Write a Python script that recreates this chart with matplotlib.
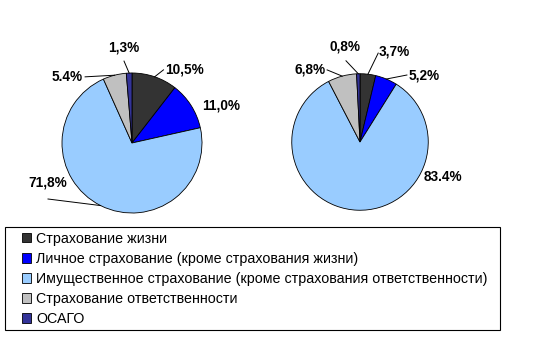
import matplotlib
matplotlib.use("Agg")
import matplotlib.pyplot as plt
from matplotlib.patches import Rectangle
import numpy as np

plt.rcParams['font.family'] = ['Liberation Sans', 'DejaVu Sans']

categories = [
    "Страхование жизни",
    "Личное страхование (кроме страхования жизни)",
    "Имущественное страхование (кроме страхования ответственности)",
    "Страхование ответственности",
    "ОСАГО",
]
left_values = [10.5, 11.0, 71.8, 5.4, 1.3]
left_labels = ["10,5%", "11,0%", "71,8%", "5.4%", "1,3%"]
right_values = [3.7, 5.2, 83.4, 6.8, 0.8]
right_labels = ["3,7%", "5,2%", "83.4%", "6,8%", "0,8%"]
colors = ["#333333", "#0000FF", "#99CCFF", "#C0C0C0", "#333399"]

W, H = 538, 337
fig = plt.figure(figsize=(W / 100, H / 100), dpi=100)

# layout: text centre and optional leader-line start (in pie-radius units)
left_layout = [((0.757, 1.057), (0.45, 1.045)),
               ((1.27, 0.53), None),
               ((-1.2, -0.57), (-1.2, -0.80)),
               ((-0.92, 0.945), (-0.67, 0.945)),
               ((-0.114, 1.36), (-0.114, 1.17))]
right_layout = [((0.493, 1.30), (0.26, 1.27)),
                ((0.915, 0.957), (0.67, 0.957)),
                ((1.186, -0.50), None),
                ((-0.72, 1.03), (-0.47, 1.03)),
                ((-0.214, 1.36), (-0.20, 1.16))]


def draw_pie(cx, cy, radius, values, labels, layout):
    size = 200
    ax = fig.add_axes([(cx - size / 2) / W, 1 - (cy + size / 2) / H, size / W, size / H])
    wedges, _ = ax.pie(values, colors=colors, startangle=90, counterclock=False,
                       radius=radius, wedgeprops=dict(edgecolor='black', linewidth=0.6))
    lim = size / 2 / 70
    ax.set_xlim(-lim, lim)
    ax.set_ylim(-lim, lim)
    ax.set_aspect('equal')
    ax.axis('off')
    for w, lab, (tpos, lstart) in zip(wedges, labels, layout):
        mid = np.deg2rad((w.theta1 + w.theta2) / 2)
        rim = (radius * np.cos(mid), radius * np.sin(mid))
        if lstart is not None:
            ax.plot([lstart[0], rim[0]], [lstart[1], rim[1]], color='black', lw=0.7,
                    clip_on=False)
        ax.text(tpos[0], tpos[1], lab, ha='center', va='center', fontsize=9.8,
                fontweight='bold', clip_on=False)
    return wedges


wl = draw_pie(132, 143, 1.0, left_values, left_labels, left_layout)
draw_pie(360, 142, 0.975, right_values, right_labels, right_layout)

fig.patches.append(Rectangle((5 / W, 1 - 330 / H), 495 / W, 103 / H,
                             transform=fig.transFigure, fill=False,
                             edgecolor='black', linewidth=0.8))

leg = fig.legend(wl, categories, loc='upper left',
                 bbox_to_anchor=(22 / W, 1 - 232 / H),
                 fontsize=10.3, frameon=False,
                 handlelength=0.6, handleheight=0.6, handletextpad=0.4,
                 labelspacing=0.42, borderpad=0.0, borderaxespad=0.0)
for h in leg.legend_handles:
    h.set_linewidth(0.6)

fig.savefig("out.png", dpi=100)
